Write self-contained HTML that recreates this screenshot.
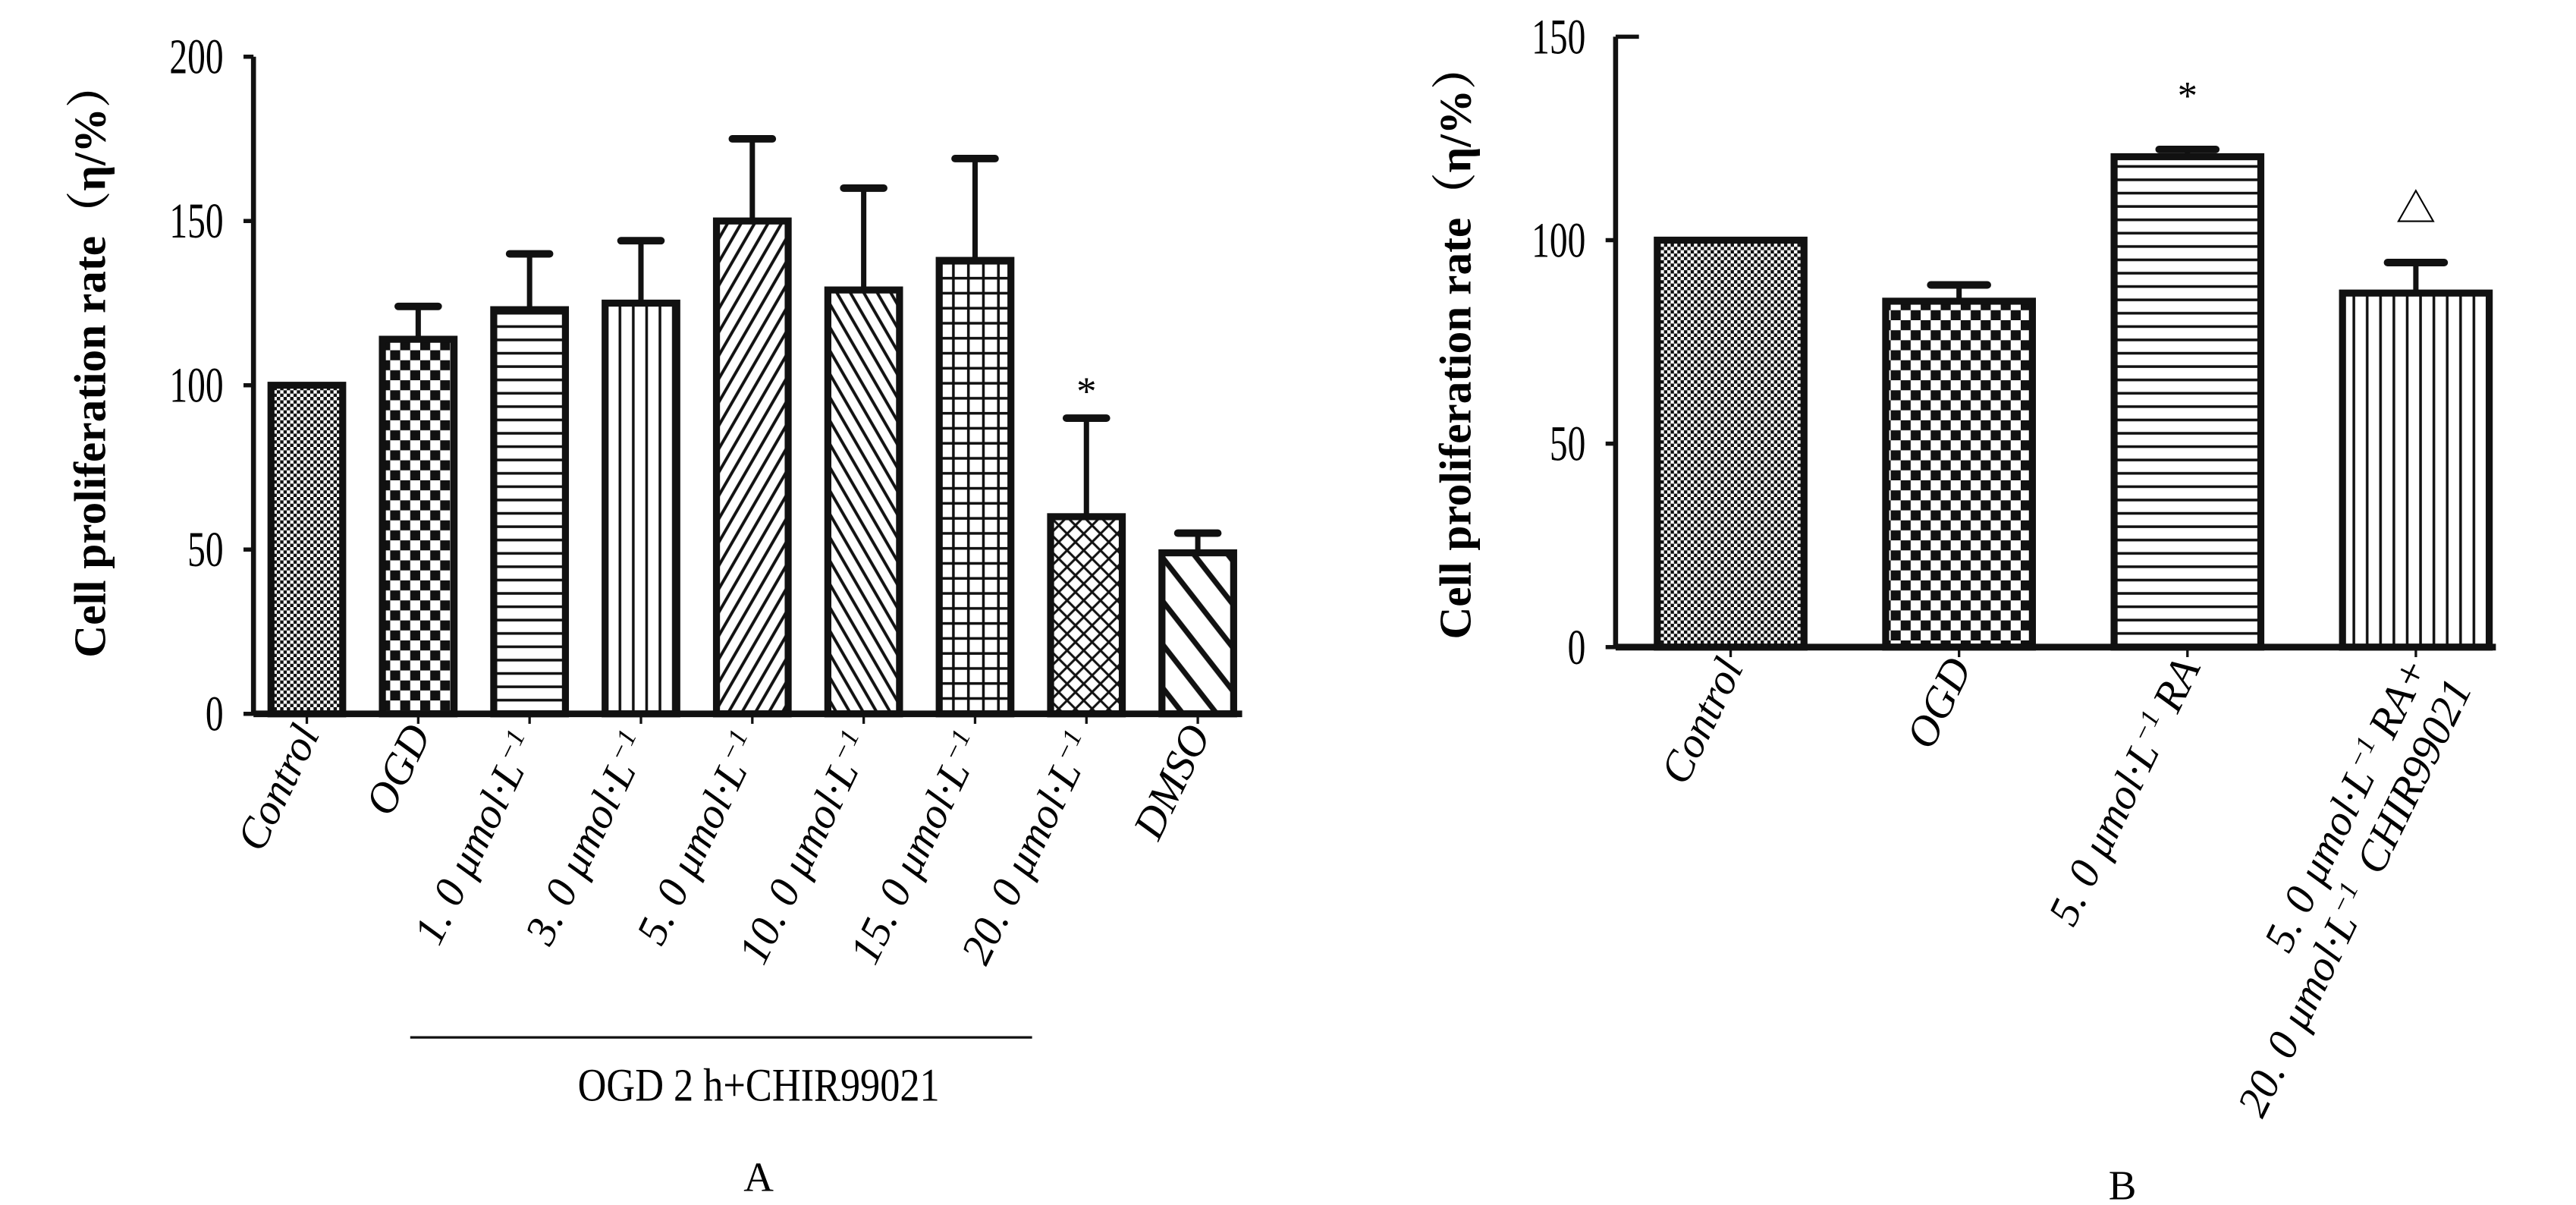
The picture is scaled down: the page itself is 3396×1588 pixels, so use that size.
<!DOCTYPE html>
<html><head><meta charset="utf-8"><style>
html,body{margin:0;padding:0;background:#fff;}
svg{display:block;}
svg text{font-family:"Liberation Serif","Noto Serif CJK SC",serif;}
</style></head><body>
<svg id="fig" width="3396" height="1588" viewBox="0 0 1545 722.5" xmlns="http://www.w3.org/2000/svg" font-family="Liberation Serif, serif">
<defs>
<pattern id="pFine" width="4" height="4" patternUnits="userSpaceOnUse"><rect width="4" height="4" fill="#fff"/><rect width="2" height="2" fill="#111"/><rect x="2" y="2" width="2" height="2" fill="#111"/></pattern>
<pattern id="pCheck" width="12" height="12" patternUnits="userSpaceOnUse"><rect width="12" height="12" fill="#fff"/><rect width="6" height="6" fill="#111"/><rect x="6" y="6" width="6" height="6" fill="#111"/></pattern>
<pattern id="pHor" width="8" height="8" patternUnits="userSpaceOnUse"><rect width="8" height="8" fill="#fff"/><rect y="3" width="8" height="1.6" fill="#111"/></pattern>
<pattern id="pVer" width="8" height="8" patternUnits="userSpaceOnUse"><rect width="8" height="8" fill="#fff"/><rect x="3" width="1.6" height="8" fill="#111"/></pattern>
<pattern id="pFwd" width="7" height="7" patternUnits="userSpaceOnUse" patternTransform="rotate(30)"><rect width="7" height="7" fill="#fff"/><rect x="3" width="1.8" height="7" fill="#111"/></pattern>
<pattern id="pBack" width="7" height="7" patternUnits="userSpaceOnUse" patternTransform="rotate(-30)"><rect width="7" height="7" fill="#fff"/><rect x="3" width="1.8" height="7" fill="#111"/></pattern>
<pattern id="pGrid" width="9" height="9" patternUnits="userSpaceOnUse"><rect width="9" height="9" fill="#fff"/><rect x="4" width="1.6" height="9" fill="#111"/><rect y="4" width="9" height="1.6" fill="#111"/></pattern>
<pattern id="pZig" width="10" height="10" patternUnits="userSpaceOnUse"><rect width="10" height="10" fill="#fff"/><path d="M0 0 L5 5 L10 0 M0 10 L5 5 L10 10" stroke="#111" stroke-width="1.4" fill="none"/></pattern>
<pattern id="pWide" width="16" height="16" patternUnits="userSpaceOnUse" patternTransform="rotate(-38)"><rect width="16" height="16" fill="#fff"/><rect x="6" width="3.2" height="16" fill="#111"/></pattern>
</defs>
<g id="panelA"></g>
<g id="panelB"></g>
</svg>
<script>
// Panel A data
const catsA = ["Control","OGD","1. 0 μmol·L^-1","3. 0 μmol·L^-1","5. 0 μmol·L^-1","10. 0 μmol·L^-1","15. 0 μmol·L^-1","20. 0 μmol·L^-1","DMSO"];
const valsA = [100,114,123,125,150,129,138,60,49];
const errA = [0,10,17,19,25,31,31,30,6];
const marksA = ["","","","","","","","*",""];
const fillsA = ["pFine","pCheck","pHor","pVer","pFwd","pBack","pGrid","pZig","pWide"];
const ticksA = [0,50,100,150,200];
// Panel B data
const catsB = ["Control","OGD","5. 0 μmol·L^-1RA","5. 0 μmol·L^-1RA+|20. 0 μmol·L^-1 CHIR99021"];
const valsB = [100,85,120.5,87];
const errB = [0,4,1.8,7.5];
const marksB = ["","","*","△"];
const fillsB = ["pFine","pCheck","pHor","pVer"];
const ticksB = [0,50,100,150];

const NS="http://www.w3.org/2000/svg";
const FF='"Liberation Serif", serif';
function mk(parent,tag,attrs,text){const e=document.createElementNS(NS,tag);for(const k in attrs)e.setAttribute(k,attrs[k]);if(text!==undefined)e.textContent=text;parent.appendChild(e);return e;}

function addRich(t,s){
  const parts=s.split('^-1');
  parts.forEach((p,k)=>{
    if(p) mk(t,'tspan',{},p);
    if(k<parts.length-1){
      mk(t,'tspan',{dy:-9,'font-size':16},'−1');
      mk(t,'tspan',{dy:9},'\u2009');
    }
  });
}

function drawPanel(g,cfg){
  const y=v=>cfg.y0-(v-cfg.min)/(cfg.max-cfg.min)*(cfg.y0-cfg.yTop);
  const x=i=>cfg.xFirst+i*cfg.step;
  cfg.vals.forEach((v,i)=>{
    const cx=x(i);
    if(cfg.err[i]>0){
      const l=mk(g,'line',{x1:cx,x2:cx,y1:y(v),y2:y(v+cfg.err[i]),stroke:'#111','stroke-width':3.2});
      
      
      const c=mk(g,'line',{x1:cx-cfg.cap,x2:cx+cfg.cap,y1:y(v+cfg.err[i]),y2:y(v+cfg.err[i]),stroke:'#111','stroke-width':4.5,'stroke-linecap':'round'});
      
      
    }
    const r=mk(g,'rect',{x:cx-cfg.bw/2,y:y(v),width:cfg.bw,height:cfg.y0-y(v),fill:'url(#'+cfg.fills[i]+')',stroke:'#111','stroke-width':4.2});
    
    
    if(cfg.marks[i]){
      const top=y(v+cfg.err[i]);
      const t=mk(g,'text',{x:cx,y:top-cfg.markOff,'text-anchor':'middle','font-size':24,'font-family':FF},cfg.marks[i]);
      
      
    }
    const lines=cfg.cats[i].split('|');
    const lg=mk(g,'g',{transform:'translate('+(cx+8)+','+(cfg.y0+12)+') rotate(-64)'});
    
    
    lines.forEach((s,k)=>{const t=mk(lg,'text',{x:0,y:k*29,'text-anchor':'end','font-size':26,'font-style':'italic','font-family':FF});addRich(t,s);});
    mk(g,'line',{x1:cx,x2:cx,y1:cfg.y0,y2:cfg.y0+6,stroke:'#111','stroke-width':1.5});
  });
  const ya=mk(g,'line',{x1:cfg.ax,x2:cfg.ax,y1:cfg.y0+1,y2:y(cfg.max),stroke:'#111','stroke-width':3});
  
  
  const xa=mk(g,'line',{x1:cfg.ax,x2:cfg.xEnd,y1:cfg.y0,y2:cfg.y0,stroke:'#111','stroke-width':4});
  
  
  cfg.ticks.forEach((t,k)=>{
    const topTick=cfg.topRight&&k===cfg.ticks.length-1;
    mk(g,'line',{x1:topTick?cfg.ax:cfg.ax-6,x2:topTick?cfg.ax+14:cfg.ax,y1:y(t),y2:y(t),stroke:'#111','stroke-width':2.5});
    const tx=cfg.ax-18, ty=y(t)+10;
    const tl=mk(g,'text',{x:0,y:0,'text-anchor':'end','font-size':30,'font-family':FF,transform:'translate('+tx+','+ty+') scale(0.72,1)'},String(t));
    
    
  });
  const yt=mk(g,'text',{x:0,y:0,'text-anchor':'middle','font-size':27,'font-weight':'bold','font-family':FF,transform:'translate('+cfg.titleX+','+cfg.titleY+') rotate(-90)'},'Cell proliferation rate（η/%）');
  
  
}

const gA=document.getElementById('panelA');
drawPanel(gA,{cats:catsA,vals:valsA,err:errA,marks:marksA,fills:fillsA,ticks:ticksA,min:0,max:200,y0:428,yTop:34,ax:152,xEnd:745,xFirst:184,step:66.8,bw:43,cap:12,markOff:8,titleX:63,titleY:216,topRight:false});
const gB=document.getElementById('panelB');
drawPanel(gB,{cats:catsB,vals:valsB,err:errB,marks:marksB,fills:fillsB,ticks:ticksB,min:0,max:150,y0:388,yTop:22,ax:969,xEnd:1497,xFirst:1038,step:137,bw:88,cap:17,markOff:24,titleX:882,titleY:205,topRight:true});

let e=mk(gA,'line',{x1:246,x2:619,y1:622,y2:622,stroke:'#111','stroke-width':1.5});


e=mk(gA,'text',{x:0,y:0,'text-anchor':'middle','font-size':28,'font-family':FF,transform:'translate(455,660) scale(0.85,1)'},'OGD 2 h+CHIR99021');


e=mk(gA,'text',{x:455,y:714,'text-anchor':'middle','font-size':25,'font-family':FF},'A');


e=mk(gB,'text',{x:1273,y:719,'text-anchor':'middle','font-size':25,'font-family':FF},'B');


</script>
</body></html>
